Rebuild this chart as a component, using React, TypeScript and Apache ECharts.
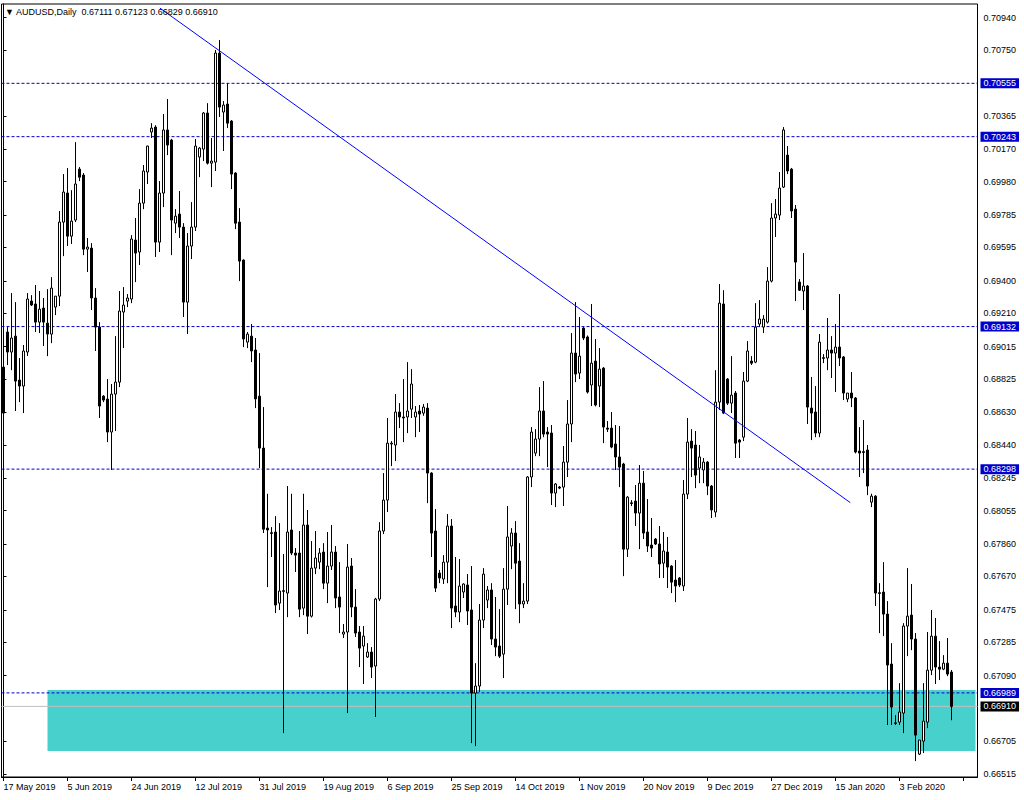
import React, { useEffect, useRef } from 'react';
import * as echarts from 'echarts';

const headerText = '\u25BC AUDUSD,Daily  0.67111 0.67123 0.66829 0.66910';

const dateLabels = [
  '17 May 2019', '5 Jun 2019', '24 Jun 2019', '12 Jul 2019', '31 Jul 2019',
  '19 Aug 2019', '6 Sep 2019', '25 Sep 2019', '14 Oct 2019', '1 Nov 2019',
  '20 Nov 2019', '9 Dec 2019', '27 Dec 2019', '15 Jan 2020', '3 Feb 2020',
];

const opens = [
  0.68895,0.69100,0.68983,0.69076,0.68819,0.68784,0.68983,0.69281,0.69264,0.69158,
  0.69240,0.69152,0.69088,0.69246,0.69310,0.69743,0.69913,0.69661,0.69755,0.70053,
  0.70018,0.69585,0.69591,0.69299,0.69129,0.68725,0.68708,0.68515,0.68737,0.68807,
  0.69217,0.69281,0.69293,0.69638,0.69568,0.69854,0.70036,0.70270,0.70299,0.69626,
  0.69913,0.70282,0.70223,0.69737,0.69790,0.69714,0.69275,0.69603,0.69714,0.70124,
  0.70170,0.70381,0.70088,0.70094,0.70732,0.70387,0.70434,0.70334,0.70030,0.69743,
  0.69521,0.69041,0.69076,0.68995,0.68725,0.68421,0.67953,0.67926,0.67930,0.67514,
  0.67587,0.67573,0.67942,0.67807,0.67807,0.67485,0.67971,0.67438,0.67719,0.67754,
  0.67813,0.67631,0.67731,0.67813,0.67550,0.67333,0.67345,0.67731,0.67491,0.67345,
  0.67263,0.67199,0.67228,0.67146,0.67538,0.67936,0.68117,0.68445,0.68439,0.68632,
  0.68603,0.68603,0.68649,0.68603,0.68638,0.68626,0.68655,0.68275,0.67936,0.67690,
  0.67655,0.67754,0.67965,0.67497,0.67462,0.67579,0.67620,0.67474,0.66988,0.67029,
  0.67415,0.67532,0.67591,0.67304,0.67263,0.67216,0.67596,0.67848,0.67924,0.67760,
  0.67509,0.67526,0.68252,0.68392,0.68474,0.68638,0.68515,0.68509,0.68158,0.68193,
  0.68193,0.68339,0.68562,0.68977,0.68860,0.69123,0.69071,0.68790,0.68930,0.68784,
  0.68889,0.68538,0.68538,0.68445,0.68369,0.68328,0.67830,0.68101,0.68111,0.68041,
  0.68216,0.67930,0.67854,0.67889,0.67860,0.67748,0.67813,0.67731,0.67649,0.67661,
  0.67614,0.68152,0.68462,0.68439,0.68304,0.68293,0.68339,0.68199,0.68047,0.68690,
  0.69264,0.68825,0.68684,0.68743,0.68468,0.68485,0.68813,0.68930,0.68924,0.69147,
  0.69129,0.69158,0.69398,0.69767,0.69784,0.69948,0.70135,0.70053,0.69819,0.69392,
  0.69340,0.69369,0.68655,0.68632,0.68509,0.68950,0.68948,0.68995,0.68977,0.69012,
  0.68954,0.68708,0.68743,0.68714,0.68404,0.68400,0.68410,0.68105,0.68140,0.67575,
  0.67579,0.67450,0.67158,0.66814,0.66818,0.66871,0.67380,0.67444,0.67304,0.66631,
  0.66707,0.66818,0.67122,0.67321,0.67140,0.67128,0.67163,0.67111,
];

const highs = [
  0.68954,0.69129,0.69328,0.69275,0.68948,0.69024,0.69328,0.69316,0.69375,0.69340,
  0.69299,0.69351,0.69421,0.69310,0.69808,0.70024,0.70059,0.69930,0.70211,0.70065,
  0.70030,0.69650,0.69620,0.69357,0.69158,0.68731,0.68825,0.68796,0.69076,0.69340,
  0.69363,0.69322,0.69667,0.69767,0.69936,0.70077,0.70190,0.70322,0.70310,0.69983,
  0.70375,0.70463,0.70230,0.69819,0.69925,0.69737,0.69679,0.69860,0.70229,0.70182,
  0.70387,0.70439,0.70235,0.70750,0.70808,0.70451,0.70556,0.70340,0.70035,0.69825,
  0.69525,0.69100,0.69147,0.69065,0.68977,0.68661,0.68154,0.67959,0.68023,0.67982,
  0.67801,0.68199,0.68154,0.67836,0.67936,0.68154,0.68059,0.67877,0.67936,0.67836,
  0.67865,0.67930,0.67971,0.67848,0.67754,0.67392,0.67860,0.67778,0.67596,0.67380,
  0.67380,0.67280,0.67257,0.67545,0.67988,0.68275,0.68597,0.68462,0.68737,0.68684,
  0.68825,0.68924,0.68883,0.68667,0.68673,0.68679,0.68684,0.68280,0.68064,0.67708,
  0.67795,0.68035,0.68006,0.67784,0.67772,0.67630,0.67684,0.67731,0.67163,0.67509,
  0.67719,0.67614,0.67631,0.67550,0.67479,0.67719,0.68082,0.67953,0.67994,0.67865,
  0.67631,0.68257,0.68544,0.68532,0.68778,0.68813,0.68544,0.68556,0.68216,0.68199,
  0.68433,0.68702,0.69094,0.69275,0.69188,0.69129,0.69080,0.69264,0.69059,0.69006,
  0.68895,0.68579,0.68632,0.68556,0.68550,0.68335,0.68140,0.68117,0.68205,0.68322,
  0.68287,0.68123,0.68012,0.67895,0.67965,0.67930,0.67901,0.67736,0.67766,0.67667,
  0.68234,0.68597,0.68532,0.68521,0.68439,0.68363,0.68345,0.68205,0.68877,0.69381,
  0.69345,0.68830,0.68959,0.68755,0.68474,0.68866,0.69047,0.68959,0.69269,0.69287,
  0.69199,0.69480,0.69854,0.69878,0.70036,0.70299,0.70188,0.70060,0.69843,0.69410,
  0.69562,0.69375,0.68837,0.68784,0.69088,0.68971,0.69182,0.69076,0.69147,0.69322,
  0.68960,0.68743,0.68866,0.68720,0.68544,0.68585,0.68439,0.68154,0.68146,0.67631,
  0.67754,0.67526,0.67280,0.66859,0.67046,0.67397,0.67719,0.67626,0.67339,0.66713,
  0.67046,0.67345,0.67474,0.67427,0.67292,0.67210,0.67310,0.67123,
];

const lows = [
  0.68626,0.68907,0.68877,0.68638,0.68690,0.68626,0.68960,0.69252,0.69100,0.69094,
  0.69018,0.68959,0.69035,0.69199,0.69252,0.69544,0.69603,0.69615,0.69743,0.69983,
  0.69550,0.69451,0.69229,0.68989,0.68597,0.68690,0.68456,0.68293,0.68521,0.68778,
  0.69006,0.69246,0.69269,0.69392,0.69492,0.69819,0.69966,0.70235,0.69539,0.69568,
  0.69831,0.70135,0.69550,0.69679,0.69650,0.69188,0.69088,0.69527,0.69691,0.70006,
  0.70100,0.70080,0.69948,0.70042,0.70358,0.70159,0.70293,0.69936,0.69702,0.69398,
  0.69012,0.69006,0.68924,0.68655,0.68304,0.67924,0.67608,0.67784,0.67456,0.67474,
  0.66754,0.67432,0.67795,0.67696,0.67432,0.67444,0.67333,0.67430,0.67684,0.67713,
  0.67596,0.67514,0.67708,0.67485,0.67339,0.67310,0.66871,0.67432,0.67316,0.67140,
  0.67041,0.67193,0.67076,0.66848,0.67526,0.67918,0.68047,0.68316,0.68345,0.68538,
  0.68456,0.68509,0.68597,0.68485,0.68515,0.68610,0.68099,0.67784,0.67579,0.67631,
  0.67626,0.67631,0.67368,0.67432,0.67403,0.67544,0.67386,0.66695,0.66678,0.66994,
  0.67368,0.67485,0.67269,0.67204,0.67193,0.67076,0.67503,0.67713,0.67479,0.67397,
  0.67485,0.67509,0.68193,0.68374,0.68374,0.68485,0.68310,0.68088,0.68076,0.68181,
  0.68082,0.68252,0.68456,0.68807,0.68825,0.69053,0.68740,0.68667,0.68665,0.68661,
  0.68450,0.68515,0.68420,0.68293,0.68193,0.67672,0.67784,0.68082,0.67965,0.67830,
  0.67889,0.67813,0.67784,0.67854,0.67661,0.67661,0.67602,0.67573,0.67520,0.67608,
  0.67585,0.68123,0.68252,0.68187,0.68216,0.68216,0.68146,0.68012,0.68017,0.68644,
  0.68620,0.68673,0.68626,0.68363,0.68363,0.68462,0.68807,0.68907,0.68918,0.69129,
  0.69094,0.69150,0.69390,0.69656,0.69755,0.69942,0.70024,0.69767,0.69281,0.69340,
  0.69229,0.68562,0.68468,0.68485,0.68485,0.68918,0.68877,0.68831,0.68749,0.68901,
  0.68702,0.68690,0.68661,0.68390,0.68252,0.68275,0.68146,0.68076,0.67497,0.67339,
  0.67321,0.66801,0.66801,0.66801,0.66801,0.66754,0.67204,0.67239,0.66590,0.66625,
  0.66637,0.66783,0.67093,0.67041,0.67064,0.67122,0.67087,0.66829,
];

const closes = [
  0.68626,0.68983,0.69065,0.68813,0.68784,0.68989,0.69293,0.69258,0.69158,0.69234,
  0.69158,0.69088,0.69357,0.69310,0.69743,0.69919,0.69661,0.69749,0.69966,0.70006,
  0.69585,0.69597,0.69299,0.69129,0.68667,0.68702,0.68515,0.68737,0.68807,0.69223,
  0.69258,0.69299,0.69644,0.69562,0.69854,0.70042,0.70188,0.70293,0.69626,0.69913,
  0.70282,0.70194,0.69755,0.69778,0.69714,0.69275,0.69603,0.69714,0.70188,0.70176,
  0.70381,0.70088,0.70100,0.70732,0.70416,0.70428,0.70322,0.70024,0.69737,0.69515,
  0.69059,0.69088,0.68989,0.68709,0.68421,0.67947,0.67942,0.67922,0.67503,0.67585,
  0.67583,0.67930,0.67807,0.67795,0.67479,0.67971,0.67438,0.67719,0.67778,0.67807,
  0.67631,0.67731,0.67813,0.67544,0.67491,0.67345,0.67725,0.67491,0.67339,0.67251,
  0.67321,0.67228,0.67140,0.67538,0.67936,0.68117,0.68450,0.68450,0.68632,0.68603,
  0.68597,0.68638,0.68796,0.68632,0.68620,0.68661,0.68275,0.67924,0.67602,0.67661,
  0.67754,0.67965,0.67485,0.67462,0.67614,0.67626,0.67468,0.66988,0.67029,0.67415,
  0.67684,0.67591,0.67304,0.67257,0.67204,0.67596,0.67901,0.67924,0.67748,0.67509,
  0.67526,0.68252,0.68515,0.68474,0.68638,0.68503,0.68503,0.68158,0.68211,0.68187,
  0.68339,0.68562,0.68977,0.68854,0.68959,0.69065,0.68749,0.68918,0.68673,0.68883,
  0.68544,0.68532,0.68427,0.68369,0.68310,0.67830,0.68134,0.68097,0.68041,0.68216,
  0.67924,0.67848,0.67836,0.67860,0.67743,0.67819,0.67725,0.67637,0.67614,0.67620,
  0.68152,0.68456,0.68421,0.68263,0.68369,0.68339,0.68199,0.68059,0.68690,0.69269,
  0.68626,0.68684,0.68731,0.68450,0.68456,0.68813,0.68989,0.68918,0.69129,0.69176,
  0.69176,0.69398,0.69767,0.69790,0.69942,0.70282,0.70042,0.69808,0.69509,0.69345,
  0.69369,0.68661,0.68626,0.68509,0.69041,0.68946,0.68995,0.68977,0.69012,0.68948,
  0.68743,0.68743,0.68714,0.68398,0.68392,0.68396,0.68199,0.68140,0.67573,0.67571,
  0.67450,0.67152,0.66906,0.66810,0.66877,0.67380,0.67438,0.67304,0.66742,0.66713,
  0.66824,0.67122,0.67321,0.67140,0.67128,0.67163,0.67099,0.66910,
];

const priceTicks = [
  0.70940, 0.70750, 0.70365, 0.70170, 0.69980, 0.69785, 0.69595, 0.69400,
  0.69210, 0.69015, 0.68825, 0.68630, 0.68440, 0.68245, 0.68055, 0.67860,
  0.67670, 0.67475, 0.67285, 0.67090, 0.66705, 0.66515,
];

const levelLines = [0.70555, 0.70243, 0.69132, 0.68298, 0.66989];
const lastPrice = 0.66910;
const zoneBars = [11, 243];
const zonePrices = [0.67006, 0.66649];
const trendLine = [[39.1, 0.70995], [211.7, 0.68102]];

const Y_MIN = 0.66497;
const Y_MAX = 0.71019;
const TOTAL_SLOTS = 244;
const BAR_PER_LABEL = 16;

const FONT = 'Liberation Sans';

export default function App() {
  const ref = useRef<HTMLDivElement>(null);

  useEffect(() => {
    if (!ref.current) return;
    const chart = echarts.init(ref.current, undefined, { renderer: 'svg' });

    const categories = Array.from({ length: TOTAL_SLOTS }, (_, i) => String(i));
    const candles = opens.map((o, i) => [o, closes[i], lows[i], highs[i]]);

    const hLine = (v: number, lineColor: string, dashed: boolean, boxColor: string) => ({
      type: 'line',
      xAxisIndex: 1,
      yAxisIndex: 0,
      data: [[-0.5, v], [TOTAL_SLOTS - 0.5, v]],
      symbol: 'none',
      silent: true,
      clip: false,
      z: 2,
      lineStyle: { color: lineColor, width: 1, type: dashed ? [3, 2] : 'solid' },
      endLabel: {
        show: true,
        formatter: v.toFixed(5),
        color: '#ffffff',
        backgroundColor: boxColor,
        padding: [1, 3, 0, 3],
        distance: 3,
        fontSize: 9,
        fontFamily: FONT,
      },
    });

    const levelSeries = levelLines.map((v) => hLine(v, '#0000CD', true, '#0000CD'));
    const lastSeries = hLine(lastPrice, '#C0C0C0', false, '#000000');

    chart.setOption({
      animation: false,
      backgroundColor: '#ffffff',
      textStyle: { fontFamily: FONT },
      title: {
        text: headerText,
        left: 5,
        top: 7,
        padding: 0,
        textStyle: { fontSize: 9, fontWeight: 'normal', color: '#000', fontFamily: FONT },
      },
      grid: {
        left: 1.5,
        right: 46.5,
        top: 4,
        bottom: 23,
        show: true,
        borderColor: '#000',
        borderWidth: 1,
        backgroundColor: '#ffffff',
      },
      xAxis: [
        {
          type: 'category',
          data: categories,
          boundaryGap: true,
          axisLine: { show: true, lineStyle: { color: '#000' } },
          axisTick: { show: true, interval: BAR_PER_LABEL - 1, alignWithLabel: true, length: 4, lineStyle: { color: '#000' } },
          axisLabel: {
            interval: BAR_PER_LABEL - 1,
            align: 'left',
            margin: 5,
            fontSize: 9,
            color: '#000',
            fontFamily: FONT,
            formatter: (_v: string, idx: number) =>
              idx % BAR_PER_LABEL === 0 ? dateLabels[idx / BAR_PER_LABEL] ?? '' : '',
          },
          splitLine: { show: false },
        },
        { type: 'value', min: -0.5, max: TOTAL_SLOTS - 0.5, show: false },
      ],
      yAxis: {
        type: 'value',
        position: 'right',
        min: Y_MIN,
        max: Y_MAX,
        axisLine: { show: true, lineStyle: { color: '#000' } },
        axisTick: { show: true, length: 3, customValues: priceTicks, lineStyle: { color: '#000' } },
        axisLabel: {
          customValues: priceTicks,
          formatter: (v: number) => v.toFixed(5),
          fontSize: 9,
          color: '#000',
          margin: 6,
          fontFamily: FONT,
        },
        splitLine: { show: false },
      },
      series: [
        ...levelSeries,
        lastSeries,
        {
          type: 'candlestick',
          data: candles,
          barWidth: 2,
          z: 3,
          silent: true,
          itemStyle: {
            color: '#ffffff',
            color0: '#000000',
            borderColor: '#000000',
            borderColor0: '#000000',
            borderWidth: 1,
          },
          markArea: {
            silent: true,
            z: 1,
            itemStyle: { color: '#48D1CC' },
            data: [[
              { xAxis: zoneBars[0], yAxis: zonePrices[0] },
              { xAxis: zoneBars[1], yAxis: zonePrices[1] },
            ]],
          },
        },
        {
          type: 'line',
          xAxisIndex: 1,
          yAxisIndex: 0,
          data: trendLine,
          symbol: 'none',
          silent: true,
          z: 4,
          lineStyle: { color: '#0000FF', width: 1 },
        },
      ],
    });

    return () => chart.dispose();
  }, []);

  return (
    <div
      ref={ref}
      style={{ position: 'absolute', left: 0, top: 0, width: 1024, height: 800 }}
    />
  );
}
